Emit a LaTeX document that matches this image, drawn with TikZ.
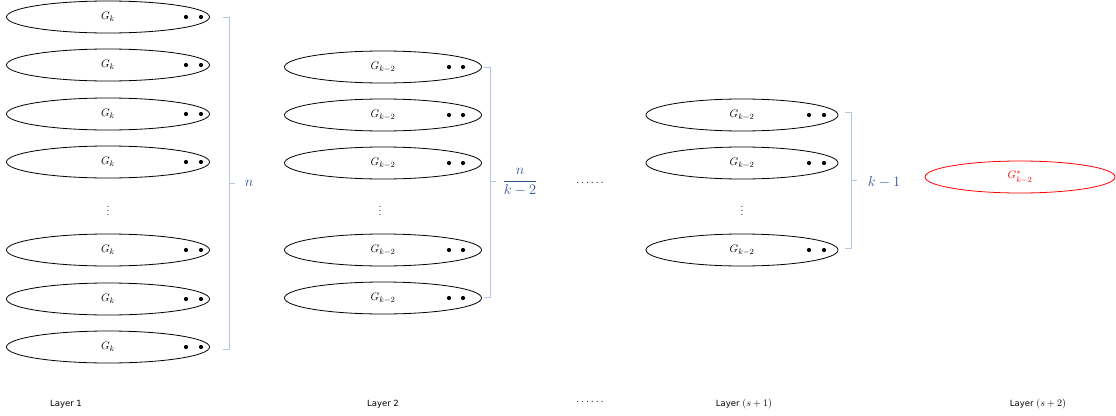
\documentclass[tikz,border=0pt]{standalone}
\usepackage{amsmath}
\usepackage{fontspec}
\newfontfamily\lblfont{DejaVu Sans}
\usetikzlibrary{shapes.geometric,calc}
\definecolor{brk}{RGB}{180,199,231}
\definecolor{lblblue}{RGB}{47,85,151}
\definecolor{redell}{RGB}{255,0,0}
\tikzset{
  gell/.style={draw=black, line width=0.8pt, ellipse, inner sep=0pt, minimum height=32pt, font=\fontsize{11}{12}\selectfont},
  redellipse/.style={draw=redell, line width=0.8pt, ellipse, inner sep=0pt, minimum height=32pt, minimum width=190pt, text=redell, font=\fontsize{11}{12}\selectfont},
  gdot/.style={circle, fill=black, inner sep=0pt, minimum size=4.2pt},
  bracket/.style={draw=brk, line width=0.8pt},
  cnt/.style={text=lblblue, font=\fontsize{14}{16}\selectfont},
  layerlbl/.style={font=\lblfont\fontsize{8.5}{10}\selectfont},
  vdts/.style={font=\fontsize{10}{10}\selectfont, inner sep=0pt}
}
\begin{document}
\begin{tikzpicture}[x=1pt,y=-1pt]
\useasboundingbox (0,0) rectangle (1116,415);
% Layer 1
\foreach \i/\y in {1/17,2/65,3/114,4/162,5/250,6/299,7/347}{
  \node[gell, minimum width=203pt] (a\i) at (108,\y) {$G_k$};
  \node[gdot] (a\i d1) at ($(a\i.center)+(78,0)$) {};
  \node[gdot] (a\i d2) at ($(a\i.center)+(93,0)$) {};
}
\node[vdts] (av) at (108,208) {$\vdots$};
\coordinate (b1t) at (229,17);
\coordinate (b1b) at (229,349);
\coordinate (b1m) at (229,183);
\draw[bracket] ($(b1t)+(-6,0)$) -- (b1t) -- (b1b) -- ($(b1b)+(-6,0)$);
\draw[bracket] (b1m) -- ($(b1m)+(6,0)$);
\node[cnt] (n1) at (249,183) {$n$};
% Layer 2
\foreach \i/\y in {1/67,2/115,3/163,5/250,6/298}{
  \node[gell, minimum width=197pt] (c\i) at (383,\y) {$G_{k-2}$};
  \node[gdot] (c\i d1) at ($(c\i.center)+(66,0)$) {};
  \node[gdot] (c\i d2) at ($(c\i.center)+(80,0)$) {};
}
\node[vdts] (cv) at (380,208) {$\vdots$};
\coordinate (b2t) at (490,67);
\coordinate (b2b) at (490,297);
\coordinate (b2m) at (490,181);
\draw[bracket] ($(b2t)+(-6,0)$) -- (b2t) -- (b2b) -- ($(b2b)+(-6,0)$);
\draw[bracket] (b2m) -- ($(b2m)+(6,0)$);
\node[cnt] (n2) at (520,182) {$\dfrac{n}{k-2}$};
% middle dots
\node[font=\fontsize{11}{12}\selectfont] (md) at (590,183) {$\ldots\ldots$};
% Layer s+1
\foreach \i/\y in {1/115,2/163,4/250}{
  \node[gell, minimum width=192pt] (e\i) at (742,\y) {$G_{k-2}$};
  \node[gdot] (e\i d1) at ($(e\i.center)+(67,0)$) {};
  \node[gdot] (e\i d2) at ($(e\i.center)+(82,0)$) {};
}
\node[vdts] (ev) at (742,208) {$\vdots$};
\coordinate (b3t) at (851,112);
\coordinate (b3b) at (851,248);
\coordinate (b3m) at (851,180);
\draw[bracket] ($(b3t)+(-6,0)$) -- (b3t) -- (b3b) -- ($(b3b)+(-6,0)$);
\draw[bracket] (b3m) -- ($(b3m)+(6,0)$);
\node[cnt] (n3) at (884,182) {$k-1$};
% Layer s+2
\node[redellipse] (r1) at (1020,177) {$G^{*}_{k-2}$};
% bottom labels
\node[layerlbl] (l1) at (66,404) {Layer 1};
\node[layerlbl] (l2) at (383,404) {Layer 2};
\node[font=\fontsize{11}{12}\selectfont] (l3) at (590,402) {$\ldots\ldots$};
\node[layerlbl] (l4) at (744,404) {Layer {\fontsize{10}{10}\selectfont$(s+1)$}};
\node[layerlbl] (l5) at (1038,404) {Layer {\fontsize{10}{10}\selectfont$(s+2)$}};
\end{tikzpicture}
\end{document}
